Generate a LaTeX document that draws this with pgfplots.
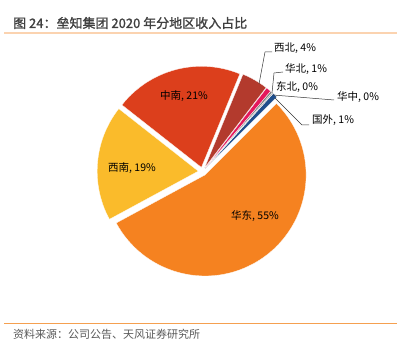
\documentclass[border=0pt]{standalone}
\usepackage{pgfplots}
\usepackage{pgfplotstable}
\pgfplotsset{compat=1.18}
\usepackage{fontspec}
\setmainfont{Noto Sans CJK SC}
\newfontfamily\cjk{Noto Sans CJK SC}
\newfontfamily\cjkb[FakeBold=1.3]{Noto Sans CJK SC}

\definecolor{slice0}{HTML}{1F4E8C}% 国外
\definecolor{slice1}{HTML}{A5A5A5}% 华中
\definecolor{slice2}{HTML}{7F7F7F}% 东北
\definecolor{slice3}{HTML}{E5185C}% 华北
\definecolor{slice4}{HTML}{B33A2D}% 西北
\definecolor{slice5}{HTML}{DC3F1C}% 中南
\definecolor{slice6}{HTML}{FABB2B}% 西南
\definecolor{slice7}{HTML}{F58220}% 华东
\definecolor{titlegray}{HTML}{404040}
\definecolor{srcgray}{HTML}{595959}
\definecolor{topline}{HTML}{FBD3B0}
\definecolor{botline}{HTML}{F5A050}

% share of revenue by region (%), counter-clockwise from 45 degrees
\pgfplotstableread{
idx value
0 0.8
1 0.2
2 0.3
3 0.8
4 4.2
5 20.6
6 18.5
7 54.6
}\piedata

\def\cx{202.5}
\def\cy{185.5}
\def\expl{4.3}
\gdef\cum{45}
\pgfplotsforeachungrouped \i in {0,...,7}{%
  \pgfplotstablegetelem{\i}{value}\of\piedata
  \pgfmathsetmacro\a{\cum}%
  \pgfmathsetmacro\b{\cum+3.6*\pgfplotsretval}%
  \pgfmathsetmacro\m{(\a+\b)/2}%
  \pgfmathsetmacro\sx{\cx+\expl*cos(\m)}%
  \pgfmathsetmacro\sy{\cy+\expl*sin(\m)}%
  \expandafter\xdef\csname sA\i\endcsname{\a}%
  \expandafter\xdef\csname sB\i\endcsname{\b}%
  \expandafter\xdef\csname sX\i\endcsname{\sx}%
  \expandafter\xdef\csname sY\i\endcsname{\sy}%
  \xdef\cum{\b}%
}

\begin{document}
\begin{tikzpicture}
\begin{axis}[
  width=411bp, height=357bp, scale only axis,
  xmin=0, xmax=411, ymin=0, ymax=357,
  axis lines=none, clip=false,
  xtick=\empty, ytick=\empty,
]
\addplot[draw=none] coordinates {(0,0) (411,357)};
\pgfplotsinvokeforeach{0,...,7}{
  \fill[slice#1, draw=white, line width=0.25pt]
    (axis cs:\csname sX#1\endcsname,\csname sY#1\endcsname)
    -- ++(\csname sA#1\endcsname:101bp)
    arc[start angle=\csname sA#1\endcsname, end angle=\csname sB#1\endcsname, radius=101bp]
    -- cycle;
}
% leader lines
\draw[black!80, line width=0.5pt] (axis cs:259,273) -- (axis cs:265,305) -- (axis cs:272,305);
\draw[black!80, line width=0.5pt] (axis cs:272,264) -- (axis cs:274,284) -- (axis cs:283,285);
\draw[black!80, line width=0.5pt] (axis cs:273,262) -- (axis cs:334,257);
\draw[black!80, line width=0.5pt] (axis cs:275,259) -- (axis cs:302,232) -- (axis cs:309,232);
% labels
\begin{scope}[every node/.style={font=\cjk\fontsize{10.5bp}{12bp}\selectfont, text=black, inner sep=0pt}]
\node at (axis cs:184,261) {中南, 21\%};
\node at (axis cs:132,189) {西南, 19\%};
\node at (axis cs:255,141) {华东, 55\%};
\node[anchor=west] at (axis cs:274,309) {西北, 4\%};
\node[anchor=west] at (axis cs:285,288) {华北, 1\%};
\node[anchor=west] at (axis cs:276,270) {东北, 0\%};
\node[anchor=west] at (axis cs:337,260) {华中, 0\%};
\node[anchor=west] at (axis cs:312,237) {国外, 1\%};
\end{scope}
% title and source
\node[anchor=west, inner sep=0pt, text=titlegray, font=\cjkb\fontsize{13bp}{15bp}\selectfont] at (axis cs:13,334) {图 24：垒知集团 2020 年分地区收入占比};
\draw[topline, line width=1.5bp] (axis cs:4,324) -- (axis cs:397,324);
\draw[botline, line width=1bp] (axis cs:4,33) -- (axis cs:397,33);
\node[anchor=west, inner sep=0pt, text=srcgray, font=\cjk\fontsize{11bp}{13bp}\selectfont] at (axis cs:13,23) {资料来源：公司公告、天风证券研究所};
\end{axis}
\end{tikzpicture}
\end{document}
